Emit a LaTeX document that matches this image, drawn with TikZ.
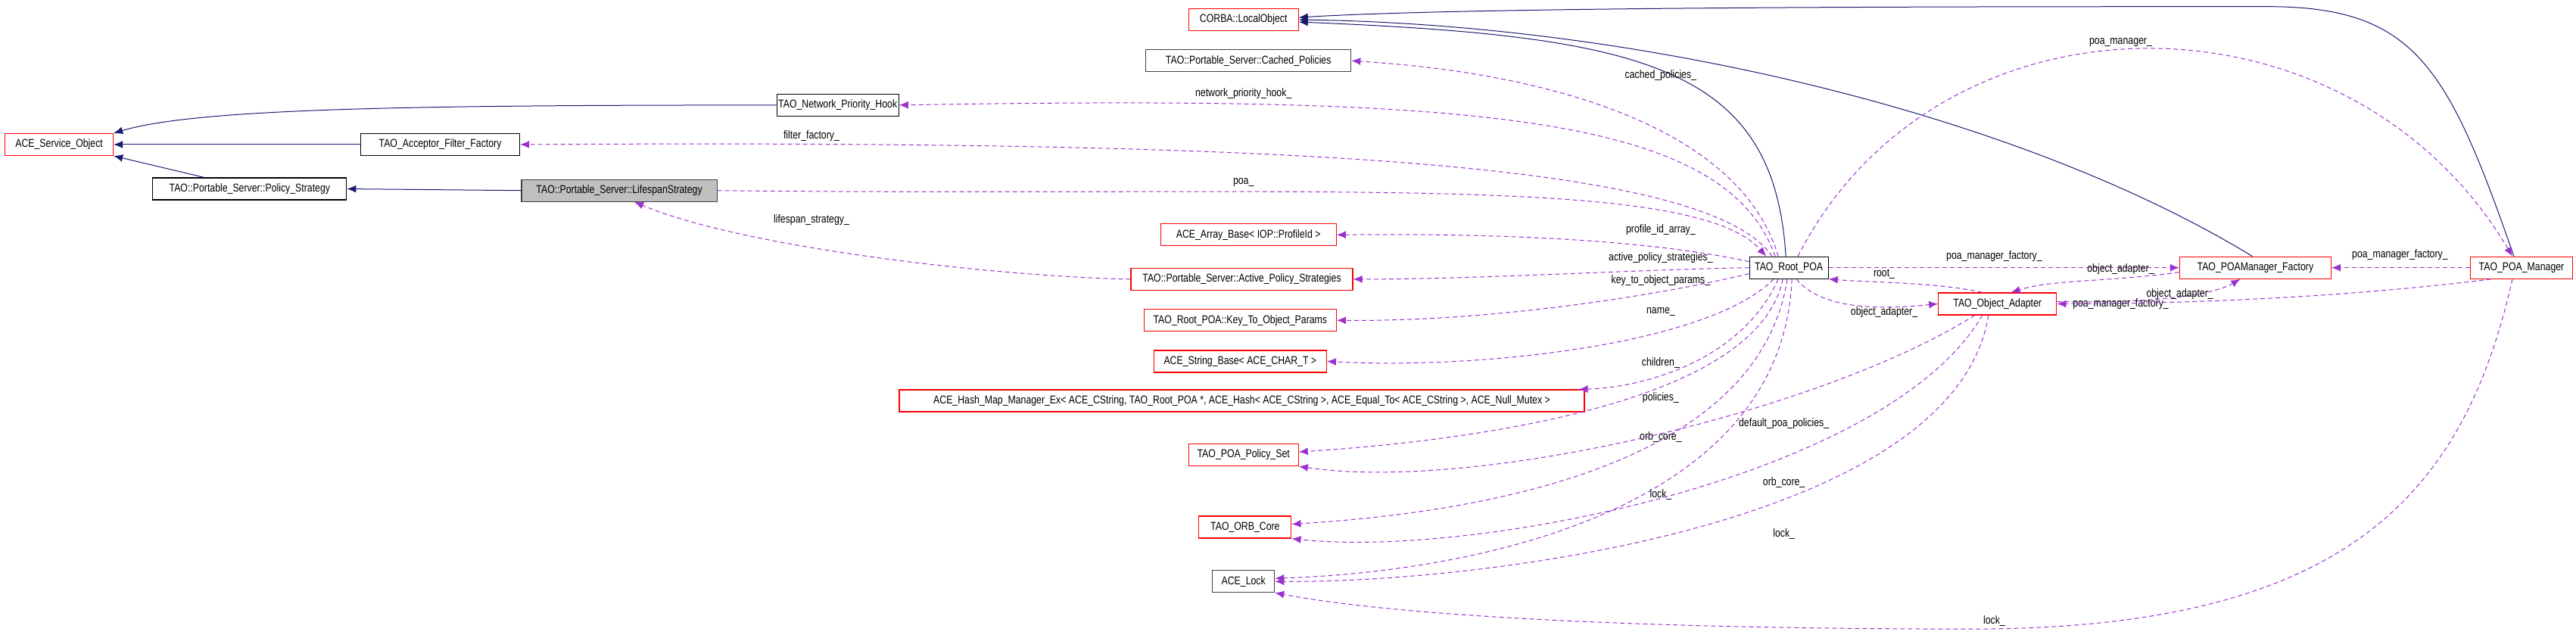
\documentclass[tikz,border=0pt]{standalone}
\usepackage{fontspec}
\setmainfont{Liberation Sans}[FakeStretch=0.82]
\usetikzlibrary{arrows.meta}
\definecolor{inh}{HTML}{191970}
\definecolor{col}{HTML}{9A32CD}
\begin{document}
\begin{tikzpicture}[x=2.17pt,y=-2.17pt,
  box/.style={draw=black,line width=1.2pt,fill=white,minimum height=29pt,inner sep=2pt,font=\fontsize{15}{17}\selectfont},
  rbox/.style={box,draw=red},
  gbox/.style={box,fill=black!25,draw=black!75},
  inhe/.style={draw=inh,line width=1pt,-{Latex[length=12pt,width=10pt]}},
  collab/.style={draw=col,line width=1pt,dashed,dash pattern=on 6pt off 4pt,-{Latex[length=12pt,width=10pt]}},
  lbl/.style={font=\fontsize{15}{17}\selectfont,inner sep=1pt}]
\useasboundingbox (0,0) rectangle (1568.2,386.6);
% nodes
\node[rbox,minimum width=145pt] (corba) at (757,12) {CORBA::LocalObject};
\node[box,draw=black!75,minimum width=271pt] (cached) at (760,37) {TAO::Portable\_Server::Cached\_Policies};
\node[box,minimum width=122pt] (nph) at (510,64) {TAO\_Network\_Priority\_Hook};
\node[rbox,minimum width=143pt] (aso) at (36,88) {ACE\_Service\_Object};
\node[box,minimum width=210pt] (aff) at (268,88) {TAO\_Acceptor\_Filter\_Factory};
\node[box,minimum width=256pt] (pols) at (152,115) {TAO::Portable\_Server::Policy\_Strategy};
\node[gbox,minimum width=258pt] (life) at (377,116) {TAO::Portable\_Server::LifespanStrategy};
\node[rbox,minimum width=232pt] (arr) at (760,143) {ACE\_Array\_Base< IOP::ProfileId >};
\node[rbox,minimum width=293pt] (aps) at (756,170) {TAO::Portable\_Server::Active\_Policy\_Strategies};
\node[rbox,minimum width=254pt] (ktop) at (755,195) {TAO\_Root\_POA::Key\_To\_Object\_Params};
\node[rbox,minimum width=228pt] (str) at (755,220) {ACE\_String\_Base< ACE\_CHAR\_T >};
\node[rbox,minimum width=905pt] (hash) at (756,244) {ACE\_Hash\_Map\_Manager\_Ex< ACE\_CString, TAO\_Root\_POA *, ACE\_Hash< ACE\_CString >, ACE\_Equal\_To< ACE\_CString >, ACE\_Null\_Mutex >};
\node[rbox,minimum width=145pt] (pset) at (757,277) {TAO\_POA\_Policy\_Set};
\node[rbox,minimum width=122pt] (orb) at (758,321) {TAO\_ORB\_Core};
\node[box,draw=black!75,minimum width=82pt] (lock) at (757,354) {ACE\_Lock};
\node[box,minimum width=104pt] (root) at (1089,163) {TAO\_Root\_POA};
\node[rbox,minimum width=200pt] (poamf) at (1373,163) {TAO\_POAManager\_Factory};
\node[rbox,minimum width=156pt] (oa) at (1216,185) {TAO\_Object\_Adapter};
\node[rbox,minimum width=135pt] (mgr) at (1535,163) {TAO\_POA\_Manager};
% inheritance
\draw[inhe] (nph.west) .. controls (250,64) and (120,66) .. (aso.north east);
\draw[inhe] (aff.west) -- (aso.east);
\draw[inhe] ([xshift=-60pt]pols.north) -- (aso.south east);
\draw[inhe] (life.west) -- (pols.east);
\draw[inhe] ([xshift=-4pt]root.north) .. controls (1080,40) and (1000,22) .. ([yshift=-3pt]corba.east);
\draw[inhe] ([xshift=-4pt]poamf.north) .. controls (1230,70) and (1000,15) .. (corba.east);
\draw[inhe] ([xshift=-10pt]mgr.north) .. controls (1490,40) and (1470,4) .. (1380,4) .. controls (1200,4) and (900,4) .. ([yshift=3pt]corba.east);
% collaborations from root
\draw[collab] ([xshift=-14pt]root.north) .. controls (1060,80) and (950,45) .. (cached.east);
\node[lbl] (l1) at (1011,46) {cached\_policies\_};
\draw[collab] ([xshift=-18pt]root.north) .. controls (1050,70) and (900,58) .. (nph.east);
\node[lbl] (l2) at (757,57) {network\_priority\_hook\_};
\draw[collab] ([xshift=-22pt]root.north) .. controls (1040,100) and (800,85) .. (aff.east);
\node[lbl] (l3) at (494,83) {filter\_factory\_};
\draw[collab] (life.east) .. controls (800,120) and (1030,105) .. ([xshift=-30pt]root.north);
\node[lbl] (l4) at (757,111) {poa\_};
\draw[collab] (aps.west) .. controls (600,168) and (450,150) .. ([xshift=20pt]life.south);
\node[lbl] (l5) at (494,134) {lifespan\_strategy\_};
\draw[collab] ([yshift=8pt]root.west) .. controls (1000,145) and (900,142) .. (arr.east);
\node[lbl] (l6) at (1011,140) {profile\_id\_array\_};
\draw[collab] ([yshift=0pt]root.west) .. controls (1000,164) and (900,170) .. (aps.east);
\node[lbl] (l7) at (1011,157) {active\_policy\_strategies\_};
\draw[collab] ([yshift=-8pt]root.west) .. controls (1000,182) and (900,196) .. (ktop.east);
\node[lbl] (l8) at (1011,171) {key\_to\_object\_params\_};
\draw[collab] ([xshift=-20pt]root.south) .. controls (1040,210) and (900,225) .. (str.east);
\node[lbl] (l9) at (1011,190) {name\_};
\draw[collab] ([xshift=-14pt]root.south) .. controls (1060,220) and (1000,236) .. ([xshift=-8pt]hash.north east);
\node[lbl] (l10) at (1011,221) {children\_};
\draw[collab] ([xshift=-8pt]root.south) .. controls (1070,245) and (900,268) .. ([yshift=4pt]pset.east);
\node[lbl] (l11) at (1011,242) {policies\_};
\draw[collab] ([xshift=-2pt]root.south) .. controls (1070,285) and (900,312) .. ([yshift=4pt]orb.east);
\node[lbl] (l12) at (1011,266) {orb\_core\_};
\draw[collab] ([xshift=4pt]root.south) .. controls (1085,310) and (900,348) .. ([yshift=4pt]lock.east);
\node[lbl] (l13) at (1011,301) {lock\_};
% object adapter collaborations
\draw[collab] ([xshift=-30pt]oa.south) .. controls (1110,250) and (900,300) .. (pset.south east);
\node[lbl] (l14) at (1086,258) {default\_poa\_policies\_};
\draw[collab] ([xshift=-20pt]oa.south) .. controls (1150,290) and (900,340) .. (orb.south east);
\node[lbl] (l15) at (1086,294) {orb\_core\_};
\draw[collab] ([xshift=-12pt]oa.south) .. controls (1190,320) and (900,355) .. (lock.east);
\node[lbl] (l16) at (1086,325) {lock\_};
\draw[collab] ([xshift=-12pt]mgr.south) .. controls (1500,300) and (1430,383) .. (1200,383) .. controls (1000,383) and (850,375) .. (lock.south east);
\node[lbl] (l17) at (1214,378) {lock\_};
% right part
\draw[collab] ([xshift=12pt]root.north) .. controls (1180,-12) and (1430,-12) .. ([xshift=-12pt]mgr.north);
\node[lbl] (l18) at (1291,26) {poa\_manager\_};
\draw[collab] (root.east) -- (poamf.west);
\node[lbl] (l19) at (1214,156) {poa\_manager\_factory\_};
\draw[collab] ([xshift=-20pt]oa.north) .. controls (1180,172) and (1140,172) .. (root.south east);
\node[lbl] (l20) at (1147,167) {root\_};
\draw[collab] ([xshift=10pt]root.south) .. controls (1110,190) and (1150,188) .. (oa.west);
\node[lbl] (l21) at (1147,190) {object\_adapter\_};
\draw[collab] ([yshift=-6pt]poamf.west) .. controls (1280,172) and (1250,170) .. ([xshift=18pt]oa.north);
\node[lbl] (l22) at (1291,164) {object\_adapter\_};
\draw[collab] ([yshift=3pt]oa.east) .. controls (1320,185) and (1350,178) .. ([xshift=-20pt]poamf.south);
\node[lbl] (l23) at (1291,185) {poa\_manager\_factory\_};
\draw[collab] ([xshift=-40pt]mgr.south) .. controls (1420,182) and (1320,185) .. (oa.east);
\node[lbl] (l24) at (1327,179) {object\_adapter\_};
\draw[collab] (mgr.west) -- (poamf.east);
\node[lbl] (l25) at (1461,155) {poa\_manager\_factory\_};
\end{tikzpicture}
\end{document}
